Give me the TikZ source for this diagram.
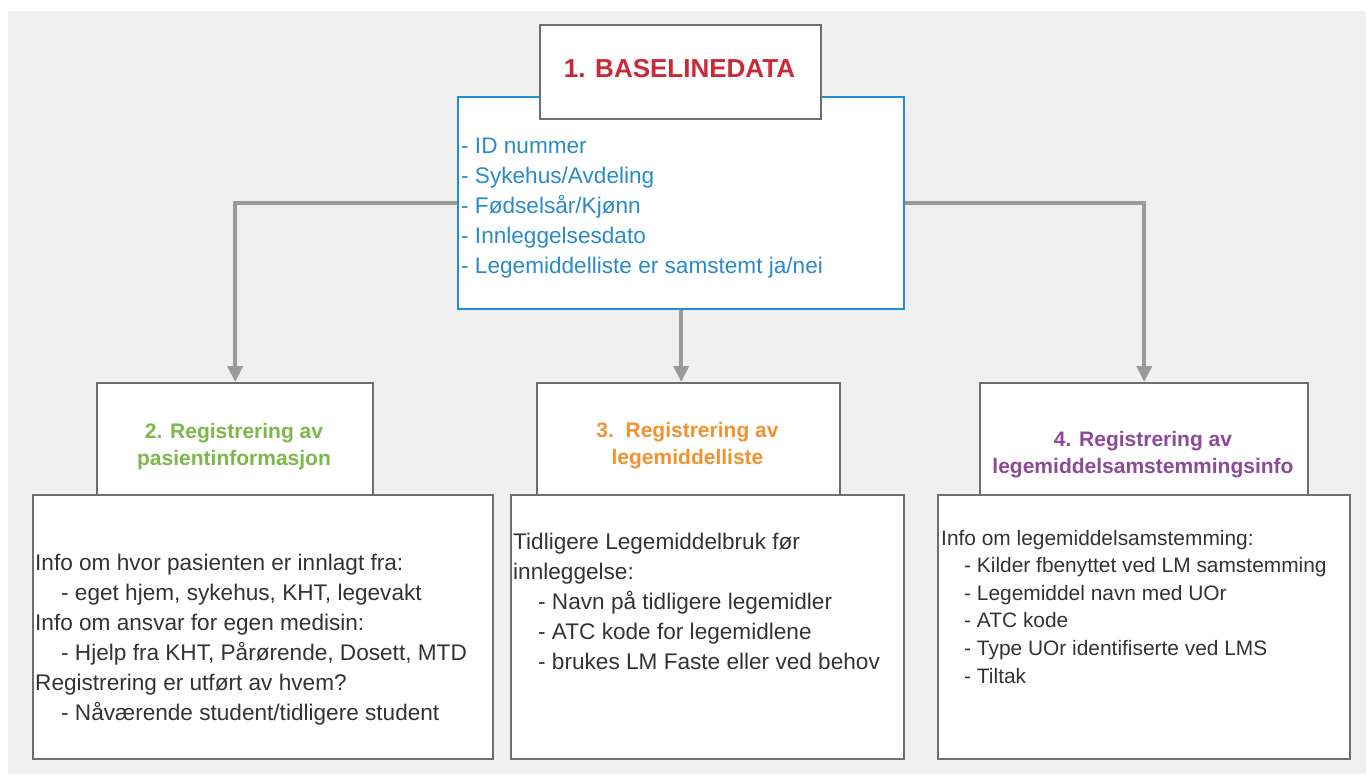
\documentclass[tikz,border=0pt]{standalone}
\usepackage{fontspec}
\setmainfont{Liberation Sans}
\usetikzlibrary{arrows.meta}
\definecolor{bgc}{HTML}{F0F0F0}
\definecolor{boxline}{HTML}{6E6E6E}
\definecolor{bluebox}{HTML}{1E8FD5}
\definecolor{bluetext}{HTML}{2A8BC6}
\definecolor{redtitle}{HTML}{CC2936}
\definecolor{greentitle}{HTML}{7CB84A}
\definecolor{orangetitle}{HTML}{F39230}
\definecolor{purpletitle}{HTML}{8E4A9A}
\definecolor{bodytext}{HTML}{333333}
\definecolor{connc}{HTML}{9A9A9A}
\begin{document}
\begin{tikzpicture}[x=1pt,y=-1pt,
  panel/.style={draw=boxline,line width=2.4pt,fill=white,rectangle,inner sep=0pt,anchor=north west},
  bluepanel/.style={draw=bluebox,line width=2.4pt,fill=white,rectangle,inner sep=0pt,anchor=north west},
  conn/.style={draw=connc,line width=3.8pt,-{Triangle[width=15pt,length=16pt]}},
  title/.style={font=\bfseries\fontsize{21}{27}\selectfont,align=center,anchor=base,inner sep=0pt},
  body/.style={font=\fontsize{22.6}{30}\selectfont,text=bodytext,align=left,anchor=base west,inner sep=0pt}
]
\useasboundingbox (0,0) rectangle (1370,774);
\fill[white] (0,0) rectangle (1370,774);
\fill[bgc] (8,11) rectangle (1366,774);

% baseline data block (text nodes are anchored at their last baseline)
\node[bluepanel,minimum width=446pt,minimum height=212pt] (base) at (457,96) {};
\node[panel,minimum width=281pt,minimum height=94pt] (head) at (539,24) {};
\node[font=\bfseries\fontsize{26}{30}\selectfont,text=redtitle,anchor=base,inner sep=0pt] (headt) at (679.5,77) {1. BASELINEDATA};
\node[body,text=bluetext] (baset) at (461,273) {- ID nummer\\- Sykehus/Avdeling\\- Fødselsår/Kjønn\\- Innleggelsesdato\\- Legemiddelliste er samstemt ja/nei};

% lower columns: detail panels
\node[panel,minimum width=460pt,minimum height=264pt] (b2) at (32,494) {};
\node[panel,minimum width=393pt,minimum height=264pt] (b3) at (510,494) {};
\node[panel,minimum width=412pt,minimum height=264pt] (b4) at (937,494) {};

% lower columns: heading panels
\node[panel,minimum width=276pt,minimum height=112pt] (h2) at (96,382) {};
\node[panel,minimum width=303pt,minimum height=112pt] (h3) at (536,382) {};
\node[panel,minimum width=328pt,minimum height=112pt] (h4) at (979,382) {};

\node[title,text=greentitle] (t2) at (234,465) {2. Registrering av\\pasientinformasjon};
\node[title,text=orangetitle] (t3) at (687.5,464) {3.\ \ Registrering av\\legemiddelliste};
\node[title,text=purpletitle] (t4) at (1143,473) {4. Registrering av\\legemiddelsamstemmingsinfo};

\node[body] (d2) at (35,720) {Info om hvor pasienten er innlagt fra:\\
  \hspace*{26pt}- eget hjem, sykehus, KHT, legevakt\\
  Info om ansvar for egen medisin:\\
  \hspace*{26pt}- Hjelp fra KHT, Pårørende, Dosett, MTD\\
  Registrering er utført av hvem?\\
  \hspace*{26pt}- Nåværende student/tidligere student};

\node[body] (d3) at (513,669) {Tidligere Legemiddelbruk før\\
  innleggelse:\\
  \hspace*{25pt}- Navn på tidligere legemidler\\
  \hspace*{25pt}- ATC kode for legemidlene\\
  \hspace*{25pt}- brukes LM Faste eller ved behov};

\node[body,font=\fontsize{20.9}{27.6}\selectfont] (d4) at (941,683) {Info om legemiddelsamstemming:\\
  \hspace*{23pt}- Kilder fbenyttet ved LM samstemming\\
  \hspace*{23pt}- Legemiddel navn med UOr\\
  \hspace*{23pt}- ATC kode\\
  \hspace*{23pt}- Type UOr identifiserte ved LMS\\
  \hspace*{23pt}- Tiltak};

% connectors
\draw[conn] (base.west) -| (h2.north);
\draw[conn] (base.east) -| (h4.north);
\draw[conn] (base.south) -- (base.south |- h3.north);
\end{tikzpicture}
\end{document}
